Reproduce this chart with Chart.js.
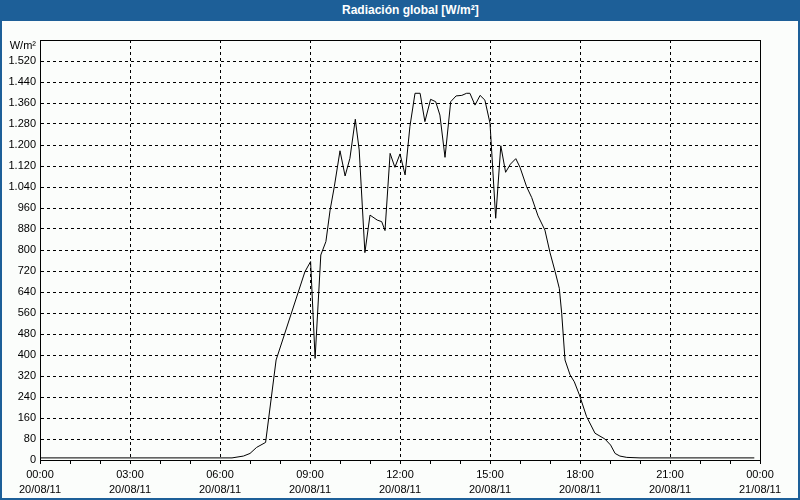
<!DOCTYPE html>
<html>
<head>
<meta charset="utf-8">
<script src="https://cdn.jsdelivr.net/npm/chart.js@4"></script>
<style>
  html, body { margin:0; padding:0; background:#fbfdfb; }
  #wrap { position:relative; width:800px; height:500px; overflow:hidden; }
  #frame { position:absolute; left:0; top:0; width:796px; height:498px; border:2px solid #1d5f98; border-top:none; box-sizing:content-box; pointer-events:none; }
  #titlebar { position:absolute; left:0; top:0; width:800px; height:21px; background:#1d5f98; }
  #titletext { position:absolute; left:342px; top:3px; color:#fff; font:bold 12px "Liberation Sans", Arial, sans-serif; white-space:nowrap; }
  canvas { position:absolute; left:0; top:0; }
</style>
</head>
<body>
<div id="wrap">
  <canvas id="c" width="800" height="500"></canvas>
  <div id="titlebar"><span id="titletext">Radiación global [W/m²]</span></div>
  <div id="frame"></div>
</div>
<script>
// ---- data (hours since 20/08/11 00:00, W/m²) ----
const times = [0.0, 6.4, 6.78, 7.0, 7.22, 7.52, 7.87, 8.83, 9.02, 9.17, 9.36, 9.53, 9.67, 9.81, 10.0, 10.17, 10.33, 10.51, 10.64, 10.83, 11.0, 11.24, 11.39, 11.5, 11.67, 11.83, 12.0, 12.17, 12.33, 12.5, 12.67, 12.83, 13.02, 13.19, 13.33, 13.5, 13.69, 13.87, 14.06, 14.22, 14.33, 14.5, 14.67, 14.83, 15.0, 15.19, 15.36, 15.52, 15.68, 15.86, 16.0, 16.22, 16.39, 16.6, 16.83, 17.0, 17.17, 17.31, 17.39, 17.5, 17.67, 17.81, 17.98, 18.22, 18.5, 18.83, 19.02, 19.17, 19.33, 19.56, 20.0, 23.81];
const radiation = [8, 8, 15, 25, 48, 67, 381, 717, 756, 387, 781, 832, 952, 1041, 1178, 1082, 1149, 1298, 1181, 790, 933, 914, 908, 874, 1168, 1115, 1166, 1086, 1270, 1397, 1397, 1289, 1374, 1365, 1314, 1153, 1365, 1387, 1389, 1397, 1397, 1352, 1389, 1371, 1283, 921, 1197, 1096, 1127, 1148, 1115, 1041, 1000, 930, 876, 790, 718, 654, 559, 381, 324, 298, 248, 165, 102, 80, 57, 25, 15, 10, 8, 8];
const xTimeLabels = ['00:00','03:00','06:00','09:00','12:00','15:00','18:00','21:00','00:00'];
const xDateLabels = ['20/08/11','20/08/11','20/08/11','20/08/11','20/08/11','20/08/11','20/08/11','20/08/11','21/08/11'];
const yUnitLabel = 'W/m²';

const FONT = { family: '"Liberation Sans", Arial, sans-serif', size: 11, lineHeight: 1.364 };

function fmt(v) {
  if (v >= 1000) return Math.floor(v / 1000) + '.' + String(v % 1000).padStart(3, '0');
  return String(v);
}

const framePlugin = {
  id: 'frame',
  afterDraw(chart) {
    const { ctx, chartArea: a } = chart;
    ctx.save();
    ctx.strokeStyle = '#000';
    ctx.lineWidth = 1;
    ctx.strokeRect(Math.round(a.left) + 0.5, Math.round(a.top) + 0.5, Math.round(a.right - a.left), Math.round(a.bottom - a.top));
    ctx.fillStyle = '#000';
    ctx.font = '11px "Liberation Sans", Arial, sans-serif';
    ctx.textAlign = 'right';
    ctx.textBaseline = 'middle';
    ctx.fillText(yUnitLabel, a.left - 4, a.top + 6);
    ctx.restore();
  }
};

new Chart(document.getElementById('c'), {
  type: 'line',
  data: {
    datasets: [{
      data: times.map((t, i) => ({ x: t, y: radiation[i] })),
      borderColor: '#000',
      borderWidth: 1,
      pointRadius: 0,
      tension: 0,
      fill: false
    }]
  },
  options: {
    responsive: false,
    animation: false,
    layout: { padding: { top: 40, right: 40, left: 0, bottom: 0 } },
    plugins: { legend: { display: false }, tooltip: { enabled: false }, title: { display: false } },
    scales: {
      x: {
        type: 'linear', min: 0, max: 24,
        afterFit: s => { s.height = 40; },
        ticks: {
          stepSize: 1, autoSkip: false, maxRotation: 0, minRotation: 0,
          padding: 3, color: '#000', font: FONT,
          callback: (v) => (v % 3 === 0) ? [xTimeLabels[v / 3], xDateLabels[v / 3]] : ''
        },
        grid: {
          color: c => (c.tick && c.tick.value % 3 === 0) ? '#000' : 'rgba(0,0,0,0)',
          tickColor: '#000', tickLength: 4, drawTicks: true, lineWidth: 1
        },
        border: { color: '#000', width: 1, dash: [3, 3] }
      },
      y: {
        min: 0, max: 1600,
        afterFit: s => { s.width = 40; },
        ticks: {
          stepSize: 80, padding: 4, color: '#000', font: FONT,
          callback: v => v >= 1600 ? '' : fmt(v)
        },
        grid: { color: '#000', drawTicks: false, lineWidth: 1 },
        border: { color: '#000', width: 1, dash: [3, 3] }
      }
    }
  },
  plugins: [framePlugin]
});
</script>
</body>
</html>
